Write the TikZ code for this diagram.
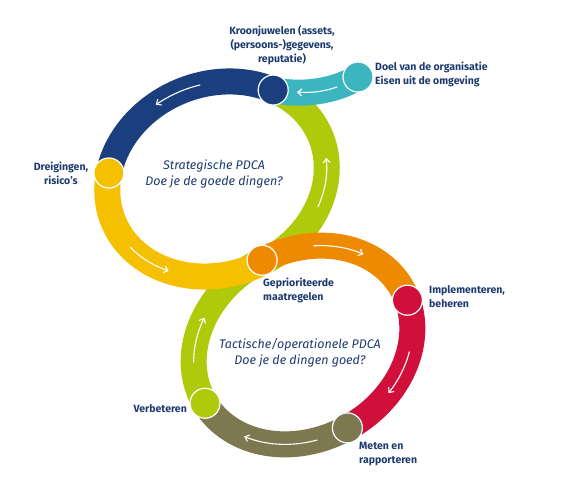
\documentclass[tikz,border=0pt]{standalone}
\usepackage{fontspec}
\setmainfont{Fira Sans}
\usetikzlibrary{arrows.meta}
\definecolor{cnavy}{HTML}{1B3F7E}
\definecolor{cteal}{HTML}{3BB6C1}
\definecolor{cgreen}{HTML}{AFCA0B}
\definecolor{cyellow}{HTML}{F5C000}
\definecolor{corange}{HTML}{EE8A00}
\definecolor{cred}{HTML}{D0103A}
\definecolor{colive}{HTML}{7D7850}
\definecolor{ctext}{HTML}{1D3A6E}
\begin{document}
\begin{tikzpicture}[x=1pt,y=-1pt,
  band/.style={line width=26pt,line join=round},
  dot/.style={circle,draw=white,line width=1.2pt,minimum size=30pt,inner sep=0pt},
  flow/.style={white,line width=1.1pt,line cap=round,-{Straight Barb[length=4pt,width=7pt]}},
  lab/.style={text=ctext,font=\fontsize{10.5}{14}\selectfont\bfseries,inner sep=0pt},
  ttl/.style={text=ctext,font=\fontsize{12.5}{16}\selectfont\itshape,align=center,inner sep=0pt},
  upper/.style={shift={(217,179)},rotate=22},
  lower/.style={shift={(303,345)},rotate=30}]
\useasboundingbox (0,0) rectangle (582,497);
% positions on the upper loop (E1) and lower loop (E2)
\begin{scope}[upper]
  \coordinate (pN) at (-40.3:112 and 95);
  \coordinate (pY) at (-151:112 and 95);
\end{scope}
\begin{scope}[lower]
  \coordinate (pO) at (-86.5:114 and 94);
  \coordinate (pR) at (8.2:114 and 94);
  \coordinate (pL) at (91.5:114 and 94);
  \coordinate (pG) at (179.1:114 and 94);
\end{scope}
\coordinate (pT) at (358,77);
% green crossing stroke (lowest layer)
\begin{scope}[upper]
  \draw[band,cgreen] plot[domain=84:-40.3,samples=60] ({112*cos(\x)},{95*sin(\x)});
\end{scope}
\begin{scope}[lower]
  \draw[band,cgreen] plot[domain=179.1:273.5,samples=60] ({114*cos(\x)},{94*sin(\x)});
\end{scope}
% teal
\draw[band,cteal] (pT) .. controls (335,92) and (300,96) .. (pN);
% upper loop
\begin{scope}[upper]
  \draw[band,cnavy] plot[domain=-40.3:-151,samples=60] ({112*cos(\x)},{95*sin(\x)});
  \draw[band,cyellow] plot[domain=-151:-276,samples=60] ({112*cos(\x)},{95*sin(\x)});
  \draw[flow] plot[domain=-80:-105,samples=20] ({112*cos(\x)},{95*sin(\x)});
  \draw[flow] plot[domain=-199:-225,samples=20] ({112*cos(\x)},{95*sin(\x)});
  \draw[flow] plot[domain=42:13,samples=20] ({112*cos(\x)},{95*sin(\x)});
\end{scope}
% lower loop
\begin{scope}[lower]
  \draw[band,corange] plot[domain=-86.5:8.2,samples=60] ({114*cos(\x)},{94*sin(\x)});
  \draw[band,cred] plot[domain=8.2:91.5,samples=60] ({114*cos(\x)},{94*sin(\x)});
  \draw[band,colive] plot[domain=91.5:179.1,samples=60] ({114*cos(\x)},{94*sin(\x)});
  \draw[flow] plot[domain=-59:-31,samples=20] ({114*cos(\x)},{94*sin(\x)});
  \draw[flow] plot[domain=39:64,samples=20] ({114*cos(\x)},{94*sin(\x)});
  \draw[flow] plot[domain=108:148,samples=20] ({114*cos(\x)},{94*sin(\x)});
  \draw[flow] plot[domain=205:231,samples=20] ({114*cos(\x)},{94*sin(\x)});
\end{scope}
\draw[flow] (337,87) .. controls (323,92) and (310,93) .. (297,92);
% circles
\node[dot,fill=cteal] (cT) at (pT) {};
\node[dot,fill=cnavy] (cN) at (pN) {};
\node[dot,fill=cyellow] (cY) at (pY) {};
\node[dot,fill=corange] (cO) at (pO) {};
\node[dot,fill=cred] (cR) at (pR) {};
\node[dot,fill=colive] (cL) at (pL) {};
\node[dot,fill=cgreen] (cG) at (pG) {};
% labels
\node[lab,align=center] (tN) at (282,45) {Kroonjuwelen (assets,\\(persoons-)gegevens,\\reputatie)};
\node[lab,align=left,anchor=west] (tT) at (375,74.5) {Doel van de organisatie\\Eisen uit de omgeving};
\node[lab,align=center] (tY) at (61,173.5) {Dreigingen,\\risico's};
\node[lab,align=left,anchor=west] (tO) at (263,290) {Geprioriteerde\\maatregelen};
\node[lab,align=left,anchor=west] (tR) at (429,296.5) {Implementeren,\\beheren};
\node[lab,align=left,anchor=west] (tL) at (359,454) {Meten en\\rapporteren};
\node[lab,align=right,anchor=east] (tG) at (187,409) {Verbeteren};
\node[ttl] (s1) at (214,173.5) {Strategische PDCA\\Doe je de goede dingen?};
\node[ttl] (s2) at (300,352.5) {Tactische/operationele PDCA\\Doe je de dingen goed?};
\end{tikzpicture}
\end{document}
